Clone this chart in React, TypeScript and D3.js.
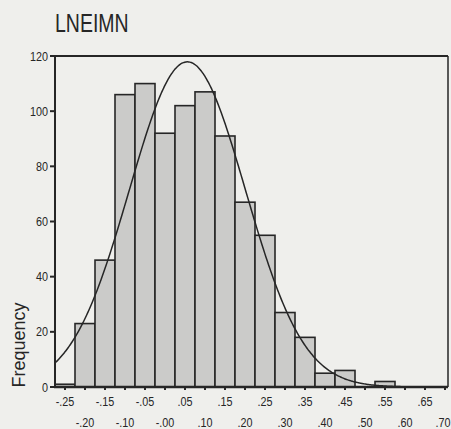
import React from "react";
import * as d3 from "d3";

const title = "LNEIMN";
const yLabel = "Frequency";
const binCenters = [-0.25, -0.2, -0.15, -0.1, -0.05, 0.0, 0.05, 0.1, 0.15, 0.2, 0.25, 0.3, 0.35, 0.4, 0.45, 0.5, 0.55, 0.6, 0.65, 0.7];
const xTickLabels = ["-.25", "-.20", "-.15", "-.10", "-.05", "-.00", ".05", ".10", ".15", ".20", ".25", ".30", ".35", ".40", ".45", ".50", ".55", ".60", ".65", ".70"];
const frequencies = [1, 23, 46, 106, 110, 92, 102, 107, 91, 67, 55, 27, 18, 5, 6, 0, 2, 0, 0, 0];
const yTicks = [0, 20, 40, 60, 80, 100, 120];
const binWidth = 0.05;
const fitMean = 0.056;
const fitStd = 0.145;
const fitN = 857;

const W = 451;
const H = 429;
const FONT = "'Liberation Sans', Arial, sans-serif";
const INK = "#262626";

export default function App() {
  const x = d3.scaleLinear().domain([-0.275, 0.7075]).range([55, 448]);
  const y = d3.scaleLinear().domain([0, 120]).range([387, 56]);
  const [x0, x1] = x.domain();

  const curveXs = d3.range(0, 301).map((i) => x0 + ((x1 - x0) * i) / 300);
  const normal = (v: number) =>
    (fitN * binWidth) / (fitStd * Math.sqrt(2 * Math.PI)) *
    Math.exp(-((v - fitMean) ** 2) / (2 * fitStd * fitStd));
  const line = d3
    .line<number>()
    .x((d) => x(d))
    .y((d) => y(normal(d)))
    .curve(d3.curveBasis);

  const left = x.range()[0];
  const right = x.range()[1];
  const top = y(120);
  const base = y(0);
  const last = binCenters.length - 1;

  return (
    <svg width={W} height={H} style={{ position: "absolute", left: 0, top: 0 }} xmlns="http://www.w3.org/2000/svg">
      <rect x={0} y={0} width={W} height={H} fill="#efefec" />
      <text transform={`translate(55,32) scale(0.75,1)`} fontFamily={FONT} fontSize={26} fill={INK}>
        {title}
      </text>
      {frequencies.map((f, i) => (
        <rect
          key={i}
          x={x(binCenters[i] - binWidth / 2)}
          y={y(f)}
          width={x(binCenters[i] + binWidth / 2) - x(binCenters[i] - binWidth / 2)}
          height={base - y(f)}
          fill="#cbcbc9"
          stroke={f > 0 ? INK : "none"}
          strokeWidth={1.6}
        />
      ))}
      <path d={line(curveXs) || ""} fill="none" stroke={INK} strokeWidth={1.5} />
      <line x1={left} y1={top} x2={right} y2={top} stroke={INK} strokeWidth={2} />
      <line x1={right} y1={top} x2={right} y2={base} stroke={INK} strokeWidth={1.5} />
      <line x1={left} y1={top} x2={left} y2={base + 1} stroke={INK} strokeWidth={2} />
      <line x1={left - 1} y1={base} x2={right} y2={base} stroke={INK} strokeWidth={2.5} />
      {yTicks.map((t) => (
        <g key={t}>
          <line x1={left - 5} x2={left} y1={y(t)} y2={y(t)} stroke={INK} strokeWidth={2} />
          <text
            transform={`translate(${left - 7},${y(t) + 4.5}) scale(0.8,1)`}
            textAnchor="end"
            fontFamily={FONT}
            fontSize={13.5}
            fill={INK}
          >
            {t}
          </text>
        </g>
      ))}
      {binCenters.map((c, i) => (
        <g key={i}>
          <line x1={x(c)} x2={x(c)} y1={base} y2={base + 3} stroke={INK} strokeWidth={2} />
          <text
            transform={`translate(${i === last ? 450.5 : x(c)},${i % 2 === 0 ? 406 : 427}) scale(0.8,1)`}
            textAnchor={i === last ? "end" : "middle"}
            fontFamily={FONT}
            fontSize={13.5}
            fill={INK}
          >
            {xTickLabels[i]}
          </text>
        </g>
      ))}
      <text
        transform={`translate(25,345) rotate(-90)`}
        textAnchor="middle"
        fontFamily={FONT}
        fontSize={18}
        fill={INK}
      >
        {yLabel}
      </text>
    </svg>
  );
}
